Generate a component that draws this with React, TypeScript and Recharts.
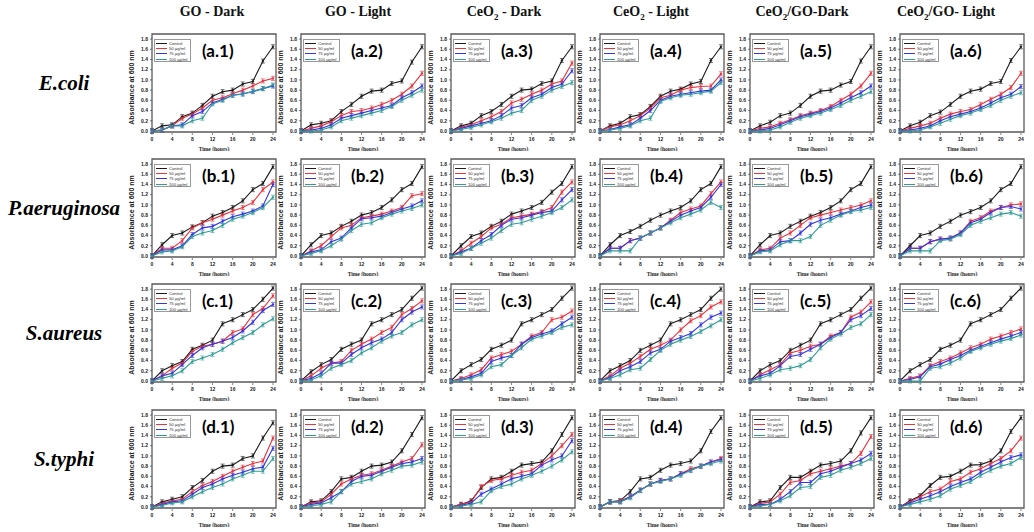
import React from 'react';
import { LineChart, Line, XAxis, YAxis, ReferenceArea, ErrorBar } from 'recharts';

// sampling times (hours) and axis ticks
const HOURS = [0, 2, 4, 6, 8, 10, 12, 14, 16, 18, 20, 22, 24];
const X_TICKS = [0, 4, 8, 12, 16, 20, 24];
const Y_TICKS = [0, 0.2, 0.4, 0.6, 0.8, 1.0, 1.2, 1.4, 1.6, 1.8];

const SERIES = ['Control', '50 \u00b5g/ml', '75 \u00b5g/ml', '100 \u00b5g/ml'];
const COLORS = ['#1a1a1a', '#e8323c', '#3434e0', '#2f9c96'];
const ERR = 0.04;

const ROW_LABELS = ['E.coli', 'P.aeruginosa', 'S.aureus', 'S.typhi'];
const ROW_TAGS = ['a', 'b', 'c', 'd'];

// [control, 50, 75, 100] per panel
const A1 = [
  [0, 0.1, 0.12, 0.28, 0.35, 0.5, 0.68, 0.77, 0.8, 0.92, 0.97, 1.37, 1.65],
  [0, 0.02, 0.1, 0.25, 0.33, 0.45, 0.6, 0.65, 0.73, 0.8, 0.88, 0.98, 1.03],
  [0, 0.02, 0.1, 0.12, 0.3, 0.38, 0.55, 0.62, 0.7, 0.73, 0.77, 0.83, 0.88],
  [0, 0.02, 0.1, 0.1, 0.2, 0.25, 0.53, 0.6, 0.7, 0.72, 0.78, 0.83, 0.9],
];
const A2 = [
  [0, 0.12, 0.15, 0.2, 0.38, 0.52, 0.68, 0.78, 0.8, 0.93, 0.98, 1.35, 1.65],
  [0, 0.05, 0.1, 0.18, 0.3, 0.38, 0.4, 0.45, 0.52, 0.6, 0.72, 0.88, 1.13],
  [0, 0.02, 0.05, 0.12, 0.25, 0.3, 0.35, 0.4, 0.45, 0.5, 0.65, 0.75, 0.88],
  [0, 0, 0.02, 0.08, 0.2, 0.25, 0.3, 0.35, 0.4, 0.48, 0.6, 0.7, 0.8],
];
const A3 = [
  [0, 0.1, 0.15, 0.3, 0.38, 0.52, 0.68, 0.8, 0.82, 0.93, 0.98, 1.38, 1.65],
  [0, 0.07, 0.12, 0.2, 0.28, 0.38, 0.55, 0.62, 0.72, 0.8, 0.92, 0.98, 1.33],
  [0, 0.05, 0.1, 0.15, 0.2, 0.3, 0.45, 0.5, 0.65, 0.72, 0.85, 0.92, 1.18],
  [0, 0.03, 0.07, 0.12, 0.18, 0.25, 0.35, 0.4, 0.6, 0.68, 0.8, 0.87, 0.95],
];
const A4 = [
  [0, 0.1, 0.15, 0.28, 0.32, 0.48, 0.68, 0.78, 0.82, 0.92, 0.97, 1.38, 1.65],
  [0, 0.08, 0.12, 0.2, 0.3, 0.45, 0.65, 0.7, 0.8, 0.85, 0.87, 0.88, 1.12],
  [0, 0.03, 0.08, 0.12, 0.25, 0.4, 0.6, 0.68, 0.72, 0.75, 0.78, 0.8, 1.0],
  [0, 0.02, 0.05, 0.1, 0.2, 0.25, 0.58, 0.65, 0.7, 0.72, 0.75, 0.78, 0.95],
];
const A5 = [
  [0, 0.1, 0.17, 0.3, 0.35, 0.5, 0.68, 0.78, 0.8, 0.9, 0.97, 1.37, 1.65],
  [0, 0.05, 0.08, 0.15, 0.22, 0.3, 0.35, 0.4, 0.48, 0.6, 0.72, 0.88, 1.13],
  [0, 0.02, 0.05, 0.12, 0.2, 0.28, 0.33, 0.38, 0.45, 0.55, 0.65, 0.75, 0.88],
  [0, 0, 0.02, 0.08, 0.17, 0.25, 0.3, 0.35, 0.42, 0.5, 0.6, 0.68, 0.77],
];
const A6 = [
  [0, 0.1, 0.17, 0.3, 0.37, 0.52, 0.68, 0.78, 0.82, 0.93, 0.97, 1.38, 1.65],
  [0, 0.05, 0.1, 0.15, 0.25, 0.33, 0.38, 0.42, 0.52, 0.62, 0.72, 0.85, 1.13],
  [0, 0.02, 0.05, 0.1, 0.2, 0.28, 0.33, 0.38, 0.45, 0.55, 0.65, 0.72, 0.87],
  [0, 0, 0.02, 0.08, 0.15, 0.23, 0.3, 0.35, 0.42, 0.5, 0.6, 0.68, 0.75],
];

const B1 = [
  [0, 0.22, 0.4, 0.45, 0.57, 0.65, 0.78, 0.85, 0.95, 1.08, 1.3, 1.42, 1.75],
  [0, 0.15, 0.15, 0.3, 0.55, 0.65, 0.72, 0.8, 0.88, 0.95, 1.05, 1.3, 1.45],
  [0, 0.12, 0.12, 0.2, 0.42, 0.55, 0.58, 0.68, 0.77, 0.82, 0.88, 0.98, 1.4],
  [0, 0.08, 0.1, 0.18, 0.38, 0.45, 0.5, 0.6, 0.72, 0.78, 0.85, 0.95, 1.15],
];
const B2 = [
  [0, 0.22, 0.4, 0.45, 0.58, 0.68, 0.8, 0.85, 0.95, 1.1, 1.3, 1.42, 1.75],
  [0, 0.1, 0.2, 0.38, 0.55, 0.6, 0.75, 0.78, 0.82, 0.88, 0.95, 1.18, 1.22],
  [0, 0.08, 0.12, 0.28, 0.35, 0.55, 0.73, 0.75, 0.78, 0.85, 0.92, 0.98, 1.08],
  [0, 0.05, 0.1, 0.2, 0.33, 0.5, 0.62, 0.65, 0.75, 0.82, 0.88, 0.93, 1.0],
];
const B3 = [
  [0, 0.2, 0.38, 0.45, 0.58, 0.68, 0.82, 0.88, 0.95, 1.05, 1.25, 1.42, 1.75],
  [0, 0.1, 0.25, 0.38, 0.55, 0.62, 0.75, 0.78, 0.82, 0.87, 0.95, 1.25, 1.45],
  [0, 0.08, 0.15, 0.3, 0.42, 0.6, 0.72, 0.75, 0.8, 0.85, 0.88, 1.1, 1.3],
  [0, 0.05, 0.15, 0.25, 0.35, 0.5, 0.62, 0.65, 0.72, 0.78, 0.85, 0.95, 1.1],
];
const B4 = [
  [0, 0.22, 0.4, 0.48, 0.58, 0.7, 0.8, 0.88, 0.95, 1.08, 1.3, 1.42, 1.75],
  [0, 0.15, 0.15, 0.3, 0.35, 0.45, 0.55, 0.7, 0.85, 0.92, 0.98, 1.22, 1.45],
  [0, 0.15, 0.15, 0.3, 0.35, 0.45, 0.55, 0.68, 0.8, 0.88, 0.95, 1.15, 1.4],
  [0, 0.1, 0.1, 0.1, 0.35, 0.45, 0.55, 0.65, 0.75, 0.82, 0.9, 1.05, 0.95],
];
const B5 = [
  [0, 0.22, 0.4, 0.45, 0.58, 0.68, 0.78, 0.85, 0.95, 1.08, 1.3, 1.42, 1.75],
  [0, 0.12, 0.15, 0.35, 0.45, 0.6, 0.75, 0.8, 0.85, 0.9, 0.95, 1.0, 1.08],
  [0, 0.1, 0.12, 0.28, 0.3, 0.45, 0.62, 0.7, 0.75, 0.82, 0.88, 0.95, 1.0],
  [0, 0.08, 0.1, 0.22, 0.3, 0.3, 0.38, 0.6, 0.7, 0.8, 0.87, 0.9, 0.95],
];
const B6 = [
  [0, 0.2, 0.4, 0.45, 0.58, 0.68, 0.8, 0.87, 0.95, 1.08, 1.3, 1.42, 1.75],
  [0, 0.15, 0.15, 0.28, 0.33, 0.35, 0.45, 0.68, 0.75, 0.88, 0.95, 1.0, 1.02],
  [0, 0.15, 0.15, 0.28, 0.33, 0.35, 0.45, 0.65, 0.72, 0.85, 0.95, 0.97, 0.92],
  [0, 0.1, 0.1, 0.1, 0.3, 0.33, 0.42, 0.6, 0.68, 0.75, 0.82, 0.85, 0.78],
];

const C1 = [
  [0, 0.2, 0.3, 0.38, 0.62, 0.7, 0.8, 1.12, 1.2, 1.3, 1.4, 1.6, 1.82],
  [0, 0.1, 0.25, 0.35, 0.58, 0.68, 0.72, 0.78, 0.95, 1.02, 1.3, 1.42, 1.67],
  [0, 0.1, 0.15, 0.32, 0.5, 0.65, 0.72, 0.78, 0.85, 0.98, 1.15, 1.38, 1.5],
  [0, 0.05, 0.1, 0.2, 0.38, 0.45, 0.52, 0.62, 0.75, 0.85, 0.95, 1.1, 1.22],
];
const C2 = [
  [0, 0.18, 0.32, 0.42, 0.62, 0.72, 0.8, 1.12, 1.2, 1.3, 1.4, 1.62, 1.82],
  [0, 0.1, 0.25, 0.35, 0.38, 0.6, 0.72, 0.82, 0.95, 1.05, 1.3, 1.42, 1.57],
  [0, 0.05, 0.15, 0.35, 0.35, 0.52, 0.65, 0.75, 0.82, 0.95, 1.2, 1.35, 1.45],
  [0, 0.02, 0.1, 0.25, 0.32, 0.4, 0.55, 0.65, 0.78, 0.88, 0.95, 1.1, 1.2],
];
const C3 = [
  [0, 0.2, 0.32, 0.42, 0.62, 0.7, 0.8, 1.12, 1.2, 1.3, 1.4, 1.62, 1.82],
  [0, 0.05, 0.12, 0.22, 0.45, 0.52, 0.58, 0.72, 0.88, 0.95, 1.2, 1.25, 1.37],
  [0, 0.03, 0.08, 0.15, 0.38, 0.45, 0.5, 0.72, 0.85, 0.92, 0.98, 1.12, 1.25],
  [0, 0.02, 0.05, 0.12, 0.28, 0.32, 0.5, 0.65, 0.82, 0.88, 0.95, 1.05, 1.1],
];
const C4 = [
  [0, 0.2, 0.3, 0.4, 0.6, 0.7, 0.8, 1.12, 1.2, 1.3, 1.4, 1.62, 1.8],
  [0, 0.1, 0.25, 0.35, 0.48, 0.62, 0.7, 0.8, 1.0, 1.18, 1.28, 1.45, 1.55],
  [0, 0.07, 0.2, 0.28, 0.38, 0.55, 0.62, 0.78, 0.85, 0.93, 1.1, 1.25, 1.33],
  [0, 0.05, 0.12, 0.22, 0.25, 0.42, 0.6, 0.72, 0.8, 0.87, 0.97, 1.08, 1.2],
];
const C5 = [
  [0, 0.2, 0.32, 0.4, 0.6, 0.7, 0.8, 1.12, 1.2, 1.3, 1.4, 1.62, 1.82],
  [0, 0.12, 0.22, 0.32, 0.55, 0.6, 0.68, 0.72, 0.88, 0.95, 1.25, 1.35, 1.55],
  [0, 0.1, 0.15, 0.3, 0.48, 0.52, 0.62, 0.72, 0.85, 0.95, 1.2, 1.28, 1.42],
  [0, 0.05, 0.12, 0.22, 0.25, 0.3, 0.42, 0.65, 0.82, 0.92, 1.05, 1.12, 1.3],
];
const C6 = [
  [0, 0.2, 0.32, 0.42, 0.62, 0.7, 0.8, 1.12, 1.2, 1.3, 1.4, 1.62, 1.82],
  [0, 0.05, 0.1, 0.3, 0.38, 0.45, 0.55, 0.65, 0.72, 0.82, 0.88, 0.95, 1.02],
  [0, 0.03, 0.08, 0.28, 0.33, 0.42, 0.5, 0.6, 0.68, 0.75, 0.82, 0.88, 0.95],
  [0, 0, 0, 0.25, 0.28, 0.35, 0.45, 0.58, 0.65, 0.72, 0.78, 0.83, 0.9],
];

const D1 = [
  [0, 0.1, 0.15, 0.2, 0.38, 0.52, 0.7, 0.8, 0.82, 0.95, 1.0, 1.35, 1.65],
  [0, 0.07, 0.12, 0.15, 0.3, 0.42, 0.5, 0.6, 0.7, 0.78, 0.85, 0.9, 1.35],
  [0, 0.05, 0.1, 0.12, 0.25, 0.38, 0.45, 0.55, 0.62, 0.68, 0.75, 0.78, 1.15],
  [0, 0.03, 0.08, 0.1, 0.2, 0.3, 0.38, 0.45, 0.55, 0.62, 0.7, 0.7, 0.95],
];
const D2 = [
  [0, 0.1, 0.12, 0.3, 0.55, 0.58, 0.7, 0.8, 0.82, 0.88, 1.1, 1.42, 1.75],
  [0, 0.08, 0.1, 0.25, 0.45, 0.55, 0.62, 0.65, 0.72, 0.8, 0.88, 0.95, 1.22],
  [0, 0.05, 0.08, 0.18, 0.3, 0.5, 0.6, 0.62, 0.7, 0.78, 0.85, 0.88, 0.95],
  [0, 0.02, 0.05, 0.1, 0.3, 0.45, 0.5, 0.55, 0.65, 0.72, 0.8, 0.82, 0.88],
];
const D3 = [
  [0, 0.05, 0.12, 0.38, 0.55, 0.58, 0.7, 0.82, 0.85, 0.88, 1.1, 1.42, 1.75],
  [0, 0.05, 0.1, 0.4, 0.52, 0.55, 0.62, 0.68, 0.72, 0.85, 1.0, 1.2, 1.42],
  [0, 0.03, 0.08, 0.25, 0.35, 0.45, 0.55, 0.6, 0.65, 0.82, 0.92, 1.0, 1.3],
  [0, 0.02, 0.05, 0.1, 0.32, 0.4, 0.45, 0.55, 0.62, 0.7, 0.8, 0.92, 1.08],
];
const D4 = [
  [0, 0.1, 0.12, 0.3, 0.55, 0.58, 0.72, 0.82, 0.85, 0.9, 1.1, 1.48, 1.75],
  [0, 0.1, 0.12, 0.2, 0.33, 0.45, 0.52, 0.55, 0.65, 0.75, 0.8, 0.88, 0.95],
  [0, 0.1, 0.1, 0.2, 0.33, 0.45, 0.52, 0.55, 0.65, 0.72, 0.8, 0.88, 0.93],
  [0, 0.1, 0.1, 0.18, 0.32, 0.45, 0.5, 0.55, 0.62, 0.72, 0.8, 0.85, 0.9],
];
const D5 = [
  [0, 0.1, 0.12, 0.38, 0.58, 0.58, 0.7, 0.82, 0.85, 0.9, 1.1, 1.45, 1.75],
  [0, 0.07, 0.1, 0.25, 0.48, 0.52, 0.65, 0.7, 0.75, 0.8, 0.85, 1.05, 1.38],
  [0, 0.05, 0.05, 0.15, 0.3, 0.48, 0.48, 0.65, 0.7, 0.78, 0.85, 0.92, 1.05],
  [0, 0.02, 0.05, 0.12, 0.22, 0.38, 0.4, 0.58, 0.62, 0.72, 0.78, 0.85, 0.95],
];
const D6 = [
  [0, 0.12, 0.22, 0.42, 0.58, 0.6, 0.7, 0.82, 0.83, 0.9, 1.1, 1.48, 1.75],
  [0, 0.1, 0.2, 0.3, 0.35, 0.5, 0.55, 0.68, 0.75, 0.85, 0.95, 1.1, 1.35],
  [0, 0.08, 0.15, 0.22, 0.3, 0.4, 0.48, 0.55, 0.68, 0.78, 0.88, 0.97, 1.02],
  [0, 0.05, 0.1, 0.15, 0.22, 0.35, 0.42, 0.5, 0.62, 0.72, 0.8, 0.85, 0.97],
];

const GRID = [
  [A1, A2, A3, A4, A5, A6],
  [B1, B2, B3, B4, B5, B6],
  [C1, C2, C3, C4, C5, C6],
  [D1, D2, D3, D4, D5, D6],
];

// layout (page pixels)
const COL_LEFT = [152, 301, 451, 600, 750, 900];
const ROW_TOP = [34, 159, 284, 410];
const PLOT_W = 124;
const PLOT_H = 99;
const AXIS_W = 26;
const PAD_T = 4;
const PAD_R = 4;
const X_H = 18;

const KEYS = ['s0', 's1', 's2', 's3'];

const yLabel = (props: any) => {
  const vb = props.viewBox || {};
  const cx = vb.x + 5;
  const cy = vb.y + vb.height / 2 + 4;
  return (
    <text x={cx} y={cy} transform={`rotate(-90 ${cx} ${cy})`} textAnchor="middle" dominantBaseline="central"
      fontSize={7} fontWeight={600} fill="#222" fontFamily="Liberation Sans, Arial, sans-serif">
      Absorbance at 600 nm
    </text>
  );
};

function Panel({ values, tag, left, top }: any) {
  const data = HOURS.map((h, i) => ({
    h,
    s0: values[0][i],
    s1: values[1][i],
    s2: values[2][i],
    s3: values[3][i],
    err: ERR,
  }));
  const tickStyle = { fontSize: 5, fill: '#222', fontWeight: 600, fontFamily: 'Liberation Sans, Arial, sans-serif' };
  return (
    <div style={{ position: 'absolute', left: left - AXIS_W, top: top - PAD_T }}>
      <LineChart width={AXIS_W + PLOT_W + PAD_R} height={PAD_T + PLOT_H + X_H} data={data}
        margin={{ top: PAD_T, right: PAD_R, bottom: 0, left: 0 }}>
        <XAxis dataKey="h" type="number" domain={[0, 24.6]} ticks={X_TICKS} tick={tickStyle}
          tickSize={2} axisLine={false} tickLine={{ stroke: '#333', strokeWidth: 0.6 }} height={X_H}
          label={{ value: 'Time (hours)', position: 'insideBottom', offset: 0, fontSize: 5.5, fontWeight: 700, fill: '#222' }} />
        <YAxis type="number" domain={[-0.02, 1.9]} ticks={Y_TICKS} tick={tickStyle} width={AXIS_W}
          tickFormatter={(v: number) => v.toFixed(1)} tickSize={2} axisLine={false}
          tickLine={{ stroke: '#333', strokeWidth: 0.6 }} label={yLabel} />
        <ReferenceArea x1={0} x2={24.6} y1={-0.02} y2={1.9} fill="none" stroke="#5a5a5a" strokeWidth={1.3} />
        {KEYS.map((k, si) => (
          <Line key={k} dataKey={k} name={SERIES[si]} stroke={COLORS[si]} strokeWidth={1.1}
            dot={{ r: 1, fill: COLORS[si], stroke: COLORS[si], strokeWidth: 0.4 }} isAnimationActive={false}>
            <ErrorBar dataKey="err" width={2} stroke={COLORS[si]} strokeWidth={0.6} direction="y" isAnimationActive={false} />
          </Line>
        ))}
      </LineChart>
      <div style={{
        position: 'absolute', left: AXIS_W + 2, top: PAD_T + 5, width: 37, height: 23,
        border: '0.6px solid #999', background: '#fff', padding: '1px 0 0 1px', boxSizing: 'border-box',
      }}>
        {SERIES.map((s, si) => (
          <div key={s} style={{
            display: 'flex', alignItems: 'center', height: 5.2, lineHeight: '5px', whiteSpace: 'nowrap',
            fontSize: 4.2, fontFamily: 'Liberation Sans, Arial, sans-serif', color: '#333',
          }}>
            <span style={{ display: 'inline-block', flex: '0 0 11px', height: 1, background: COLORS[si], marginRight: 2 }} />
            <span>{s}</span>
          </div>
        ))}
      </div>
      <div style={{
        position: 'absolute', left: AXIS_W + 50, top: PAD_T + 8, fontSize: 17, lineHeight: '17px',
        fontWeight: 700, fontFamily: 'Lato, "Open Sans", sans-serif', color: '#000',
      }}>
        {tag}
      </div>
    </div>
  );
}

const titleStyle: any = {
  position: 'absolute', top: 4, fontFamily: '"Liberation Serif", "Times New Roman", serif',
  fontWeight: 700, fontSize: 14, transform: 'translateX(-50%)', whiteSpace: 'nowrap', color: '#111',
};
const sub = <sub style={{ fontSize: 9 }}>2</sub>;

export default function App() {
  const centers = [212, 358, 504, 651, 802, 946];
  return (
    <div style={{ position: 'absolute', left: 0, top: 0, width: 1034, height: 532, background: '#fff', overflow: 'hidden' }}>
      <div style={{ ...titleStyle, left: centers[0] }}>GO - Dark</div>
      <div style={{ ...titleStyle, left: centers[1] }}>GO - Light</div>
      <div style={{ ...titleStyle, left: centers[2] }}>CeO{sub} - Dark</div>
      <div style={{ ...titleStyle, left: centers[3] }}>CeO{sub} - Light</div>
      <div style={{ ...titleStyle, left: centers[4] }}>CeO{sub}/GO-Dark</div>
      <div style={{ ...titleStyle, left: centers[5] }}>CeO{sub}/GO- Light</div>
      {ROW_LABELS.map((r, ri) => (
        <div key={r} style={{
          position: 'absolute', left: 64, top: ROW_TOP[ri] + PLOT_H / 2 - 13, transform: 'translateX(-50%)',
          fontFamily: '"Liberation Serif", "Times New Roman", serif', fontWeight: 700, fontStyle: 'italic',
          fontSize: 21, whiteSpace: 'nowrap', color: '#000',
        }}>{r}</div>
      ))}
      {GRID.map((row, ri) => row.map((vals, ci) => (
        <Panel key={`${ri}-${ci}`} values={vals} tag={`(${ROW_TAGS[ri]}.${ci + 1})`}
          left={COL_LEFT[ci]} top={ROW_TOP[ri]} />
      )))}
    </div>
  );
}
